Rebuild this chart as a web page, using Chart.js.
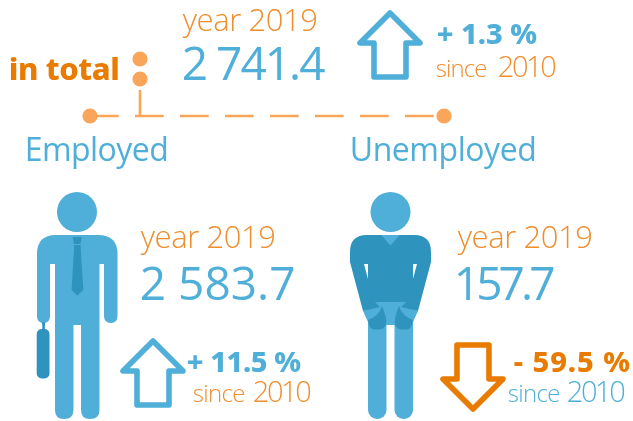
<!DOCTYPE html>
<html>
<head>
<meta charset="utf-8">
<style>html,body{margin:0;padding:0;background:#fff}canvas{display:block}</style>
<script src="https://cdn.jsdelivr.net/npm/chart.js@4"></script>
</head>
<body>
<canvas id="c" width="633" height="421"></canvas>
<script>
// ---- data ----
const groups = ['in total', 'Employed', 'Unemployed'];
const values2019 = [2741.4, 2583.7, 157.7];
const changesSince2010 = [1.3, 11.5, -59.5];
const currentYear = 2019;
const baseYear = 2010;

// ---- palette ----
const BLUE = '#4FAFD8', DARK = '#2E93BD', ORANGE = '#E87B00', SOFT = '#EE8E2E', DOT = '#F9A65A';
const LIGHT = '"Open Sans", sans-serif';

// ---- layout (page pixels) ----
const layout = {
  total:      {yearX:182, yearR:317, yearY:31,  valX:183, valR:326, valY:80,  pctX:437, pctR:538, pctY:44,  sinceX:436, sinceR:487, numX:498, numR:556, sinceY:77,  arrow:[390,45]},
  employed:   {yearX:140, yearR:275, yearY:248, valX:141, valR:294, valY:300, pctX:187, pctR:302, pctY:372, sinceX:193, sinceR:245, numX:253, numR:311, sinceY:402, arrow:[153,373], figure:[77,306]},
  unemployed: {yearX:457, yearR:592, yearY:248, valX:457, valR:554, valY:300, pctX:513, pctR:631, pctY:372, sinceX:508, sinceR:560, numX:567, numR:625, sinceY:402, arrow:[473,377], figure:[390,306]}
};
const keys = ['total', 'employed', 'unemployed'];
const INK_INSET = 0.8;

function poly(ctx, pts){ ctx.beginPath(); pts.forEach((p,i)=> i?ctx.lineTo(p[0],p[1]):ctx.moveTo(p[0],p[1])); ctx.closePath(); }
function rr(ctx,x,y,w,h,r){ ctx.beginPath(); ctx.roundRect(x,y,w,h,r); ctx.fill(); }
function icon(w,h,draw){ const c=document.createElement('canvas'); c.width=w;c.height=h; const x=c.getContext('2d'); x.translate(w/2,h/2); draw(x); return c; }

function arrowIcon(up, color){
  return icon(76,76, x=>{
    const s = up?1:-1;
    poly(x,[[0,-32*s],[-30,-2*s],[-16,-2*s],[-16,32*s],[16,32*s],[16,-2*s],[30,-2*s]]);
    x.strokeStyle=color; x.lineWidth=5.6; x.lineJoin='round'; x.stroke();
  });
}
function employedIcon(){
  return icon(100,232, x=>{
    x.translate(-77,-306);
    x.fillStyle=BLUE;
    x.beginPath(); x.arc(77,212,20,0,7); x.fill();
    x.beginPath();
    x.moveTo(37,323); x.lineTo(37,254);
    x.quadraticCurveTo(37,235,56,235); x.lineTo(98,235); x.quadraticCurveTo(117.5,235,117.5,254);
    x.lineTo(117.5,316); x.quadraticCurveTo(117.5,323,111,323); x.quadraticCurveTo(104,323,104,316);
    x.lineTo(104,264); x.lineTo(99.5,264); x.lineTo(99.5,410);
    x.quadraticCurveTo(99.5,419,90,419); x.quadraticCurveTo(81,419,81,410);
    x.lineTo(81,325); x.lineTo(73.5,325); x.lineTo(73.5,410);
    x.quadraticCurveTo(73.5,419,64,419); x.quadraticCurveTo(55,419,55,410);
    x.lineTo(55,264); x.lineTo(50,264); x.lineTo(50,316);
    x.quadraticCurveTo(50,323,43.5,323); x.quadraticCurveTo(37,323,37,316);
    x.closePath(); x.fill();
    x.fillStyle=DARK;
    poly(x,[[72.7,237],[81.7,237],[80.5,244],[74,244]]); x.fill();
    poly(x,[[74.2,245],[80.5,245],[83.3,290],[77.4,295.5],[71.6,290]]); x.fill();
    x.fillStyle=BLUE; x.fillRect(42,320,3,5);
    x.fillStyle=DARK; rr(x,42.3,322,2.6,8,0); rr(x,36.7,329,12.8,49.5,5);
  });
}
function unemployedIcon(){
  return icon(100,232, x=>{
    x.translate(-390,-306);
    x.fillStyle=BLUE;
    x.beginPath(); x.arc(390.5,212,20,0,7); x.fill();
    rr(x,368,300,18.5,119,[0,0,9,9]); rr(x,394.5,300,18.5,119,[0,0,9,9]);
    x.fillRect(375,300,32,25);
    poly(x,[[363,311],[381,305],[386,320],[368,322]]); x.fill();
    poly(x,[[418,311],[400,305],[395,320],[413,322]]); x.fill();
    x.fillStyle=DARK;
    x.beginPath();
    x.moveTo(350,262); x.lineTo(350,252); x.quadraticCurveTo(350,235,367,235);
    x.lineTo(414,235); x.quadraticCurveTo(431,235,431,252); x.lineTo(431,262);
    x.lineTo(418,311); x.lineTo(401,307); x.lineTo(406,302); x.lineTo(375,302); x.lineTo(380,307); x.lineTo(363,311);
    x.closePath(); x.fill();
    x.beginPath(); x.moveTo(368,320); x.quadraticCurveTo(379,316,382,306); x.quadraticCurveTo(387,318,386,324);
    x.quadraticCurveTo(385,329.5,378,329.5); x.lineTo(374,329.5); x.quadraticCurveTo(369,329,368,320); x.closePath(); x.fill();
    x.beginPath(); x.moveTo(413,320); x.quadraticCurveTo(402,316,399,306); x.quadraticCurveTo(394,318,395,324);
    x.quadraticCurveTo(396,329.5,403,329.5); x.lineTo(407,329.5); x.quadraticCurveTo(412,329,413,320); x.closePath(); x.fill();
    x.fillStyle='#fff';
    poly(x,[[364,264],[368,264],[368,279]]); x.fill();
    poly(x,[[413,264],[417,264],[413,279]]); x.fill();
    x.fillStyle=BLUE;
    poly(x,[[381.3,235],[390.3,245.7],[399.7,235]]); x.fill();
  });
}

const pt = a => ({x:a[0], y:a[1]});
const fmtValue = v => { const [a,b]=v.toFixed(1).split('.'); return a.replace(/\B(?=(\d{3})+$)/g,' ')+'.'+b; };
const fmtChange = v => (v<0?'- ':'+ ')+Math.abs(v).toFixed(1)+' %';

// ---- text: each string's ink is spaced to span x..right ----
const texts = [];
function T(s,x,right,y,font,color){ texts.push({s,x,right,y,font,color}); }
T(groups[0],10,119,80,'800 31px "Noto Sans"',ORANGE);
T(groups[1],27,167,161,'400 32px '+LIGHT,BLUE);
T(groups[2],351,535,161,'400 32px '+LIGHT,BLUE);
keys.forEach((k,i)=>{
  const L=layout[k], neg=changesSince2010[i]<0;
  T('year '+currentYear,L.yearX,L.yearR,L.yearY,'300 31px '+LIGHT,SOFT);
  T(fmtValue(values2019[i]),L.valX,L.valR,L.valY,'400 46px '+LIGHT,BLUE);
  T(fmtChange(changesSince2010[i]),L.pctX,L.pctR,L.pctY,'800 29px "Noto Sans"',neg?ORANGE:BLUE);
  T('since',L.sinceX,L.sinceR,L.sinceY,'300 24px '+LIGHT,neg?BLUE:SOFT);
  T(String(baseYear),L.numX,L.numR,L.sinceY,'300 29px '+LIGHT,neg?BLUE:SOFT);
});
const textPlugin = { id:'texts', afterDraw(ch){ const c=ch.ctx; c.save(); c.textBaseline='alphabetic'; c.textAlign='left';
  texts.forEach(t=>{ c.font=t.font; c.letterSpacing='0px';
    const m=c.measureText(t.s), ink=m.actualBoundingBoxLeft+m.actualBoundingBoxRight;
    c.letterSpacing=((t.right-t.x-2*INK_INSET-ink)/Math.max(1,t.s.length-1)).toFixed(2)+'px';
    c.fillStyle=t.color; c.fillText(t.s,t.x+INK_INSET+m.actualBoundingBoxLeft,t.y); }); c.restore(); } };

const blank = {showLine:false, pointRadius:1, pointHoverRadius:1};
new Chart(document.getElementById('c'),{
  type:'scatter',
  data:{datasets:[
    {label:'branch', data:[{x:90,y:116},{x:444,y:116}], showLine:true, borderColor:DOT, borderWidth:2.6, borderDash:[28.7,16.3], pointRadius:7.6, pointBackgroundColor:DOT, pointBorderWidth:0},
    {label:'stem', data:[{x:140,y:90},{x:140,y:116}], showLine:true, borderColor:DOT, borderWidth:2.6, pointRadius:0},
    {label:'colon', data:[{x:140,y:59},{x:140,y:79}], showLine:false, pointRadius:7.6, pointBackgroundColor:DOT, pointBorderWidth:0},
    ...keys.map((k,i)=>{ const up=changesSince2010[i]>=0; return {...blank,label:groups[i]+' change',data:[pt(layout[k].arrow)],pointStyle:arrowIcon(up,up?BLUE:ORANGE)}; }),
    {...blank,label:groups[1],data:[pt(layout.employed.figure)],pointStyle:employedIcon()},
    {...blank,label:groups[2],data:[pt(layout.unemployed.figure)],pointStyle:unemployedIcon()}
  ]},
  options:{
    responsive:false, animation:false, events:[],
    layout:{padding:0, autoPadding:false},
    plugins:{legend:{display:false},tooltip:{enabled:false},title:{display:false}},
    scales:{x:{type:'linear',display:false,min:0,max:633},y:{type:'linear',display:false,min:0,max:421,reverse:true}}
  },
  plugins:[textPlugin]
});
</script>
</body>
</html>
